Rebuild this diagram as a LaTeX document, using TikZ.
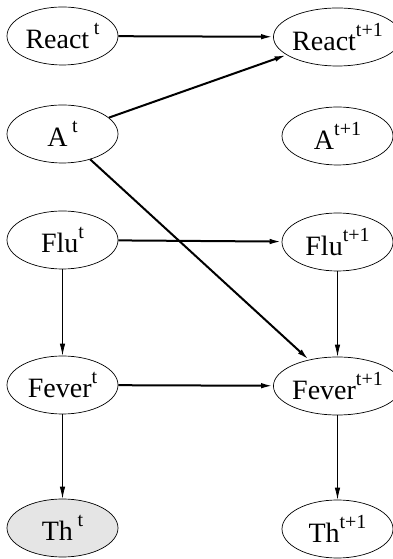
\documentclass[tikz,border=0pt]{standalone}
\usepackage{fontspec}
\setmainfont{Liberation Serif}
\usetikzlibrary{shapes.geometric,arrows.meta}

\newcommand{\tsup}[1]{\raisebox{0.5em}{\fontsize{20}{20}\selectfont #1}}

\tikzset{
	var/.style={draw, ellipse, line width=0.7pt, minimum width=111pt, minimum height=58pt, inner sep=0pt, font=\fontsize{28}{32}\selectfont},
	obs/.style={var, fill=black!10},
	slow/.style={-{Latex[length=12pt,width=5.5pt]}, line width=2pt},
	within/.style={-{Latex[length=12pt,width=5.5pt]}, line width=0.8pt}
}

\begin{document}
\begin{tikzpicture}[x=1pt, y=1pt]
	\useasboundingbox (0, 0) rectangle (393, 559);

	\node[var] (react0) at (62.5, 523) {React\,\tsup{t}};
	\node[var] (a0) at (62.5, 425) {A\,\tsup{t}};
	\node[var] (flu0) at (62.5, 319) {Flu\tsup{t}};
	\node[var] (fever0) at (62.5, 174) {Fever\tsup{t}};
	\node[obs] (th0) at (62.5, 31) {Th\,\tsup{t}};

	\node[var] (react1) at (337.5, 522) {React\tsup{t+1}};
	\node[var] (a1) at (337.5, 423) {A\tsup{t+1}};
	\node[var] (flu1) at (337.5, 317) {Flu\tsup{t+1}};
	\node[var] (fever1) at (337.5, 173) {Fever\tsup{t+1}};
	\node[var] (th1) at (337.5, 30) {Th\tsup{t+1}};

	\draw[slow] (react0) -- (react1);
	\draw[slow] (a0) -- (react1);
	\draw[slow] (a0) -- (fever1);
	\draw[slow] (flu0) -- (flu1);
	\draw[slow] (fever0) -- (fever1);

	\draw[within] (flu0) -- (fever0);
	\draw[within] (fever0) -- (th0);
	\draw[within] (flu1) -- (fever1);
	\draw[within] (fever1) -- (th1);

\end{tikzpicture}
\end{document}
